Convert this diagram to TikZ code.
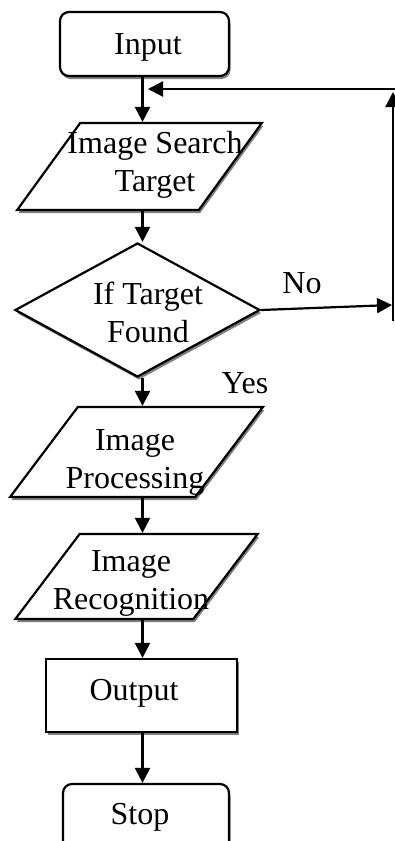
\documentclass[tikz,border=0pt]{standalone}
\usepackage{fontspec}
\setmainfont{Liberation Serif}
\usetikzlibrary{shapes.geometric,shadows,arrows.meta}
\newcommand{\blankbox}{\phantom{\rule{20pt}{20pt}}}
\begin{document}
\begin{tikzpicture}[x=1pt,y=-1pt,
  base/.style={draw,line width=2.2pt,fill=white,inner sep=0pt,
    drop shadow={shadow xshift=1.5pt,shadow yshift=-3pt,fill=gray,opacity=1}},
  txt/.style={font=\fontsize{32}{38}\selectfont,align=center,inner sep=0pt},
  term/.style={base,rectangle,rounded corners=9pt},
  io/.style={base,trapezium,trapezium stretches=true},
  procbox/.style={base,rectangle},
  decision/.style={base,diamond},
  arr/.style={line width=2.2pt,-{Triangle[length=15pt,width=15pt]}}
]
\useasboundingbox (0,0) rectangle (395,841);
\coordinate (axis) at (142.5,0);
% shapes
\node[term,minimum width=169pt,minimum height=64pt] (input) at (144.5,44) {\blankbox};
\node[io,trapezium left angle=62,trapezium right angle=118,minimum width=245pt,minimum height=87pt] (search) at (139.5,166.5) {\blankbox};
\node[decision,minimum width=245pt,minimum height=134pt] (dec) at (137.5,310) {\blankbox};
\node[io,trapezium left angle=60,trapezium right angle=120,minimum width=253pt,minimum height=90pt] (proc) at (136.5,452) {\blankbox};
\node[io,trapezium left angle=60.5,trapezium right angle=119.5,minimum width=243pt,minimum height=85pt] (recog) at (136.5,576.5) {\blankbox};
\node[procbox,minimum width=191pt,minimum height=73pt] (out) at (141.5,695.5) {\blankbox};
\node[term,minimum width=166pt,minimum height=66pt] (stop) at (146,817) {\blankbox};
% texts
\node[txt] (inputT) at (148,47) {Input};
\node[txt] (searchT) at (155,165) {Image Search\\Target};
\node[txt] (decT) at (148,312) {If Target\\Found};
\node[txt] (procT) at (135,462) {Image\\Processing};
\node[txt] (recogT) at (131,583) {Image\\Recognition};
\node[txt] (outT) at (134,693) {Output};
\node[txt] (stopT) at (140,817) {Stop};
\node[txt] (noT) at (302,283) {No};
\node[txt] (yesT) at (245,383) {Yes};
% loop coordinates
\coordinate (fbR) at (396,89);
\coordinate (fbL) at (148,89);
\coordinate (vB) at (393,321);
\coordinate (vT) at (393,92);
\coordinate (noEnd) at (392,305);
% connectors
\draw[arr] (input.south -| axis) -- (search.north -| axis);
\draw[arr] (fbR) -- (fbL);
\draw[arr] (search.south -| axis) -- (dec.north -| axis);
\draw[arr] (dec.east) -- (noEnd);
\draw[arr] (vB) -- (vT);
\draw[arr] (dec.south -| axis) -- (proc.north -| axis);
\draw[arr] (proc.south -| axis) -- (recog.north -| axis);
\draw[arr] (recog.south -| axis) -- (out.north -| axis);
\draw[arr] (out.south -| axis) -- (stop.north -| axis);
\end{tikzpicture}
\end{document}
